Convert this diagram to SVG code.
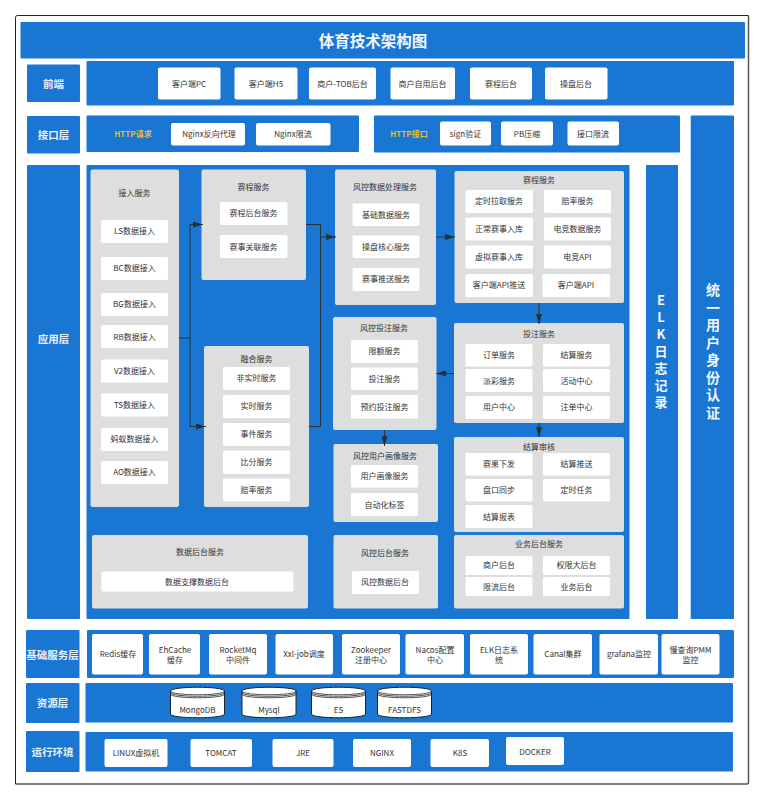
<svg xmlns="http://www.w3.org/2000/svg" width="764" height="800" viewBox="0 0 764 800">
<style>
text{font-family:"Noto Sans CJK SC","Noto Sans",sans-serif;text-anchor:middle;dominant-baseline:central;transform:translateY(-1px)}
.b{fill:#1976d2}
.g{fill:#dedede}
.w{fill:#fff}
.t{font-size:8px;fill:#333}
.l{font-size:10.5px;font-weight:700;fill:#e8f1fb}
.h{font-size:8px;font-weight:700;fill:#f5b92e}
.v{font-weight:700;fill:#f2f7fd;writing-mode:vertical-rl;text-orientation:upright}
.c{fill:#fff;stroke:#222;stroke-width:1}
.c2{fill:none;stroke:#222;stroke-width:.8}
.k{fill:none;stroke:#263238;stroke-width:1}
</style>
<defs>
<marker id="a" markerUnits="userSpaceOnUse" markerWidth="10" markerHeight="6" refX="10" refY="3" orient="auto"><path d="M0 0L10 3L0 6Z" fill="#263238"/></marker>
<g id="cyl"><path class="c" d="M0 5C0 0 54 0 54 5V28C54 33 0 33 0 28Z"/><path class="c2" d="M0 5C0 10 54 10 54 5M0 6.500C0 11.500 54 11.500 54 6.500M0 8C0 13 54 13 54 8"/></g>
</defs>
<path d="M15.500 784V17.500Q15.500 15.500 17.500 15.500H748.500" fill="none" stroke="#222" stroke-width="1"/>
<path d="M748.500 15.500V782Q748.500 784 746.500 784H15.500" fill="none" stroke="#555" stroke-width="1.500"/>
<g id="title"><rect class="b" x="20.500" y="22" width="724.500" height="36.500" rx="1"/><text x="373" y="41" fill="#f2f7fd" style="font-size:15.500px;font-weight:700">体育技术架构图</text></g>

<g id="frontend">
<rect class="b" x="27" y="64.500" width="53" height="37.500" rx="1"/><text class="l" x="53.500" y="84">前端</text>
<rect class="b" x="86.500" y="61" width="647.500" height="44.500" rx="1"/>
<rect class="w" x="158" y="67.500" width="62.500" height="32" rx="2"/><text class="t" x="189" y="84">客户端PC</text>
<rect class="w" x="234.500" y="67.500" width="63" height="32" rx="2"/><text class="t" x="266" y="84">客户端H5</text>
<rect class="w" x="309" y="67.500" width="67" height="32" rx="2"/><text class="t" x="342.500" y="84">商户-TOB后台</text>
<rect class="w" x="390.500" y="67.500" width="64.500" height="32" rx="2"/><text class="t" x="422.500" y="84">商户自用后台</text>
<rect class="w" x="470" y="67.500" width="62" height="32" rx="2"/><text class="t" x="501" y="84">赛程后台</text>
<rect class="w" x="545" y="67.500" width="62.500" height="32" rx="2"/><text class="t" x="576" y="84">操盘后台</text>
</g>

<g id="api">
<rect class="b" x="27" y="116" width="53" height="37.500" rx="1"/><text class="l" x="53.500" y="135">接口层</text>
<rect class="b" x="86.500" y="115.500" width="272.500" height="36.500" rx="1"/>
<text class="h" x="133" y="134">HTTP请求</text>
<rect class="w" x="171" y="123" width="74" height="22.500" rx="2"/><text class="t" x="209" y="134.500">Nginx反向代理</text>
<rect class="w" x="256" y="123" width="74.500" height="22.500" rx="2"/><text class="t" x="293" y="134.500">Nginx限流</text>
<rect class="b" x="374" y="115.500" width="306" height="37" rx="1"/>
<text class="h" x="409" y="134">HTTP接口</text>
<rect class="w" x="440" y="121.500" width="51" height="24" rx="2"/><text class="t" x="465.500" y="134">sign验证</text>
<rect class="w" x="501" y="121.500" width="52" height="24" rx="2"/><text class="t" x="527" y="134">PB压缩</text>
<rect class="w" x="567.500" y="121.500" width="51.500" height="24" rx="2"/><text class="t" x="593" y="134">接口限流</text>
</g>

<g id="auth"><rect class="b" x="690.700" y="115.500" width="43.300" height="503.500" rx="1"/>
<text class="v" x="713" y="354" style="font-size:14px;letter-spacing:3.500px">统一用户身份认证</text></g>
<g id="elk"><rect class="b" x="646" y="165" width="32" height="454" rx="1"/>
<text class="v" x="661" y="354" style="font-size:13px;letter-spacing:4px">ELK日志记录</text></g>

<g id="app">
<rect class="b" x="27" y="165" width="53" height="454" rx="1"/><text class="l" x="53.500" y="339">应用层</text>
<rect class="b" x="86.500" y="165" width="543" height="454" rx="1"/>
</g>

<g id="access">
<rect class="g" x="90.500" y="169.500" width="88.500" height="337.500" rx="2"/><text class="t" x="134.500" y="193">接入服务</text>
<rect class="w" x="101" y="220" width="67" height="23" rx="1.500"/><text class="t" x="134.500" y="231.500">LS数据接入</text>
<rect class="w" x="101" y="257" width="67" height="23" rx="1.500"/><text class="t" x="134.500" y="268.500">BC数据接入</text>
<rect class="w" x="101" y="293" width="67" height="23" rx="1.500"/><text class="t" x="134.500" y="304.500">BG数据接入</text>
<rect class="w" x="101" y="325" width="67" height="23" rx="1.500"/><text class="t" x="134.500" y="337">RB数据接入</text>
<rect class="w" x="101" y="359.500" width="67" height="23" rx="1.500"/><text class="t" x="134.500" y="371">V2数据接入</text>
<rect class="w" x="101" y="393.500" width="67" height="23" rx="1.500"/><text class="t" x="134.500" y="405">TS数据接入</text>
<rect class="w" x="101" y="428" width="67" height="23" rx="1.500"/><text class="t" x="134.500" y="439.500">蚂蚁数据接入</text>
<rect class="w" x="101" y="461" width="67" height="23" rx="1.500"/><text class="t" x="134.500" y="472.500">AO数据接入</text>
</g>

<g id="schedule1">
<rect class="g" x="201.500" y="169.500" width="104.500" height="110.500" rx="2"/><text class="t" x="253.500" y="187">赛程服务</text>
<rect class="w" x="220" y="202" width="67.500" height="23" rx="1.500"/><text class="t" x="253.500" y="213.500">赛程后台服务</text>
<rect class="w" x="220" y="235" width="67.500" height="23" rx="1.500"/><text class="t" x="253.500" y="247">赛事关联服务</text>
</g>

<g id="fusion">
<rect class="g" x="204" y="346" width="105" height="161" rx="2"/><text class="t" x="256.500" y="359">融合服务</text>
<rect class="w" x="223" y="367" width="67" height="23" rx="1.500"/><text class="t" x="256.500" y="378.500">非实时服务</text>
<rect class="w" x="223" y="395" width="67" height="23" rx="1.500"/><text class="t" x="256.500" y="406.500">实时服务</text>
<rect class="w" x="223" y="423" width="67" height="23" rx="1.500"/><text class="t" x="256.500" y="434.500">事件服务</text>
<rect class="w" x="223" y="450.500" width="67" height="23.500" rx="1.500"/><text class="t" x="256.500" y="462">比分服务</text>
<rect class="w" x="223" y="478.500" width="67" height="23" rx="1.500"/><text class="t" x="256.500" y="490">赔率服务</text>
</g>

<g id="riskdata">
<rect class="g" x="335" y="169.500" width="101" height="135.500" rx="2"/><text class="t" x="385" y="187">风控数据处理服务</text>
<rect class="w" x="352.500" y="203.500" width="67" height="22.500" rx="1.500"/><text class="t" x="386" y="215">基础数据服务</text>
<rect class="w" x="352.500" y="235.500" width="67" height="22.500" rx="1.500"/><text class="t" x="386" y="247">操盘核心服务</text>
<rect class="w" x="352.500" y="268" width="67" height="23" rx="1.500"/><text class="t" x="386" y="279.500">赛事推送服务</text>
</g>

<g id="schedule2">
<rect class="g" x="454.500" y="171" width="169.500" height="132" rx="2"/><text class="t" x="539" y="180">赛程服务</text>
<rect class="w" x="465.500" y="190" width="67.500" height="23" rx="1.500"/><text class="t" x="499" y="201.500">定时拉取服务</text>
<rect class="w" x="544" y="190" width="67" height="23" rx="1.500"/><text class="t" x="577.500" y="201.500">赔率服务</text>
<rect class="w" x="465.500" y="217.500" width="67.500" height="23" rx="1.500"/><text class="t" x="499" y="229">正常赛事入库</text>
<rect class="w" x="544" y="217.500" width="67" height="23" rx="1.500"/><text class="t" x="577.500" y="229">电竞数据服务</text>
<rect class="w" x="465.500" y="245.500" width="67.500" height="23" rx="1.500"/><text class="t" x="499" y="257">虚拟赛事入库</text>
<rect class="w" x="544" y="245.500" width="67" height="23" rx="1.500"/><text class="t" x="577.500" y="257">电竞API</text>
<rect class="w" x="465.500" y="274" width="67.500" height="23" rx="1.500"/><text class="t" x="499" y="285.500">客户端API推送</text>
<rect class="w" x="542.500" y="274" width="67.500" height="23" rx="1.500"/><text class="t" x="576" y="285.500">客户端API</text>
</g>

<g id="riskbet">
<rect class="g" x="333" y="317" width="103.500" height="113" rx="2"/><text class="t" x="384" y="328">风控投注服务</text>
<rect class="w" x="351" y="340" width="67" height="23" rx="1.500"/><text class="t" x="384.500" y="351.500">限额服务</text>
<rect class="w" x="351" y="367.500" width="67" height="22.500" rx="1.500"/><text class="t" x="384.500" y="379">投注服务</text>
<rect class="w" x="351" y="395" width="67" height="23.500" rx="1.500"/><text class="t" x="384.500" y="407">预约投注服务</text>
</g>

<g id="riskuser">
<rect class="g" x="333.500" y="444" width="104.500" height="78" rx="2"/><text class="t" x="385" y="456">风控用户画像服务</text>
<rect class="w" x="351" y="465" width="67" height="22.500" rx="1.500"/><text class="t" x="384.500" y="476.500">用户画像服务</text>
<rect class="w" x="351" y="493" width="67" height="23" rx="1.500"/><text class="t" x="384.500" y="505">自动化标签</text>
</g>

<g id="riskadmin">
<rect class="g" x="333.500" y="535" width="104.500" height="73.500" rx="2"/><text class="t" x="385" y="553">风控后台服务</text>
<rect class="w" x="352" y="571" width="67" height="23" rx="1.500"/><text class="t" x="385" y="582.500">风控数据后台</text>
</g>

<g id="bet">
<rect class="g" x="454" y="323" width="170" height="100" rx="2"/><text class="t" x="539" y="334">投注服务</text>
<rect class="w" x="465.500" y="344" width="67" height="22.500" rx="1.500"/><text class="t" x="499" y="355.500">订单服务</text>
<rect class="w" x="543" y="344" width="67" height="22.500" rx="1.500"/><text class="t" x="576.500" y="355.500">结算服务</text>
<rect class="w" x="465.500" y="369" width="67" height="23" rx="1.500"/><text class="t" x="499" y="381">派彩服务</text>
<rect class="w" x="543" y="369" width="67" height="23" rx="1.500"/><text class="t" x="576.500" y="381">活动中心</text>
<rect class="w" x="465.500" y="396" width="67" height="23" rx="1.500"/><text class="t" x="499" y="407.500">用户中心</text>
<rect class="w" x="543" y="396" width="67" height="23" rx="1.500"/><text class="t" x="576.500" y="407.500">注单中心</text>
</g>

<g id="settle">
<rect class="g" x="454" y="437" width="170" height="95" rx="2"/><text class="t" x="539" y="447">结算审核</text>
<rect class="w" x="465.500" y="453" width="67" height="22.500" rx="1.500"/><text class="t" x="499" y="464.500">赛果下发</text>
<rect class="w" x="543" y="453" width="67" height="22.500" rx="1.500"/><text class="t" x="576.500" y="464.500">结算推送</text>
<rect class="w" x="465.500" y="479" width="67" height="22.500" rx="1.500"/><text class="t" x="499" y="490.500">盘口同步</text>
<rect class="w" x="543" y="479" width="67" height="22.500" rx="1.500"/><text class="t" x="576.500" y="490.500">定时任务</text>
<rect class="w" x="465.500" y="505" width="67" height="23" rx="1.500"/><text class="t" x="499" y="517">结算报表</text>
</g>

<g id="bizadmin">
<rect class="g" x="454" y="535" width="170" height="73.500" rx="2"/><text class="t" x="539" y="544.500">业务后台服务</text>
<rect class="w" x="465.500" y="556" width="67" height="19" rx="1.500"/><text class="t" x="499" y="565.500">商户后台</text>
<rect class="w" x="543" y="556" width="67" height="19" rx="1.500"/><text class="t" x="576.500" y="565.500">权限大后台</text>
<rect class="w" x="465.500" y="577" width="67" height="19" rx="1.500"/><text class="t" x="499" y="587">限流后台</text>
<rect class="w" x="543" y="577" width="67" height="19" rx="1.500"/><text class="t" x="576.500" y="587">业务后台</text>
</g>

<g id="dataadmin">
<rect class="g" x="92" y="535" width="216" height="73.500" rx="2"/><text class="t" x="200" y="552">数据后台服务</text>
<rect class="w" x="101.500" y="571.500" width="192" height="20" rx="1.500"/><text class="t" x="197" y="582">数据支撑数据后台</text>
</g>

<g id="connectors">
<path class="k" d="M179 338H190V224.500H203" marker-end="url(#a)"/>
<path class="k" d="M190 338V426.500H206" marker-end="url(#a)"/>
<path class="k" d="M306 224.500H320.500V426.500H309"/>
<path class="k" d="M320.500 237H336" marker-end="url(#a)"/>
<path class="k" d="M436 237H455" marker-end="url(#a)"/>
<path class="k" d="M539 303V324" marker-end="url(#a)"/>
<path class="k" d="M454 373.500H436" marker-end="url(#a)"/>
<path class="k" d="M539 423V437" marker-end="url(#a)"/>
<path class="k" d="M384.500 430V446" marker-end="url(#a)"/>
</g>

<g id="infra">
<rect class="b" x="26" y="630" width="53.500" height="48" rx="1"/><text class="l" x="52.500" y="655">基础服务层</text>
<rect class="b" x="87" y="630" width="647" height="48" rx="1"/>
<rect class="w" x="92" y="634" width="51" height="40.500" rx="2"/><text class="t" x="118" y="654.500">Redis缓存</text>
<rect class="w" x="149" y="634" width="51" height="40.500" rx="2"/><text class="t"><tspan x="175" y="649.500">EhCache</tspan><tspan x="175" y="659.500">缓存</tspan></text>
<rect class="w" x="209" y="634" width="58" height="40.500" rx="2"/><text class="t"><tspan x="238" y="649.500">RocketMq</tspan><tspan x="238" y="659.500">中间件</tspan></text>
<rect class="w" x="275.500" y="634" width="57.500" height="40.500" rx="2"/><text class="t" x="304" y="654.500">Xxl-job调度</text>
<rect class="w" x="342" y="634" width="58" height="40.500" rx="2"/><text class="t"><tspan x="371" y="649.500">Zookeeper</tspan><tspan x="371" y="659.500">注册中心</tspan></text>
<rect class="w" x="405.500" y="634" width="58.500" height="40.500" rx="2"/><text class="t"><tspan x="435" y="649.500">Nacos配置</tspan><tspan x="435" y="659.500">中心</tspan></text>
<rect class="w" x="470" y="634" width="58" height="40.500" rx="2"/><text class="t"><tspan x="499" y="649.500">ELK日志系</tspan><tspan x="499" y="659.500">统</tspan></text>
<rect class="w" x="533.500" y="634" width="58.500" height="40.500" rx="2"/><text class="t" x="563" y="654.500">Canal集群</text>
<rect class="w" x="599.500" y="634" width="58.500" height="40.500" rx="2"/><text class="t" x="629" y="654.500">grafana监控</text>
<rect class="w" x="661.500" y="634" width="58" height="40.500" rx="2"/><text class="t"><tspan x="690.500" y="649.500">慢查询PMM</tspan><tspan x="690.500" y="659.500">监控</tspan></text>
</g>

<g id="resource">
<rect class="b" x="26" y="683" width="53.500" height="40" rx="1"/><text class="l" x="52.500" y="703">资源层</text>
<rect class="b" x="85.500" y="683" width="647.500" height="39.500" rx="1"/>
<use href="#cyl" x="170.500" y="686"/><text class="t" x="197.500" y="710">MongoDB</text>
<use href="#cyl" x="242" y="686"/><text class="t" x="269" y="710">Mysql</text>
<use href="#cyl" x="311.500" y="686"/><text class="t" x="338.500" y="710">ES</text>
<use href="#cyl" x="377.500" y="686"/><text class="t" x="404.500" y="710">FASTDFS</text>
</g>

<g id="runtime">
<rect class="b" x="26" y="731" width="53.500" height="41" rx="1"/><text class="l" x="52.500" y="752">运行环境</text>
<rect class="b" x="85.500" y="732" width="647.500" height="39.500" rx="1"/>
<rect class="w" x="104.500" y="739" width="63" height="28" rx="2"/><text class="t" x="136" y="753.500">LINUX虚拟机</text>
<rect class="w" x="190.500" y="739" width="61.500" height="28" rx="2"/><text class="t" x="221" y="753.500">TOMCAT</text>
<rect class="w" x="272.500" y="739" width="61" height="28" rx="2"/><text class="t" x="303" y="753.500">JRE</text>
<rect class="w" x="353" y="739" width="58" height="28" rx="2"/><text class="t" x="382" y="753.500">NGINX</text>
<rect class="w" x="430.500" y="739" width="58.500" height="28" rx="2"/><text class="t" x="460" y="753.500">K8S</text>
<rect class="w" x="506" y="737" width="58" height="28" rx="2"/><text class="t" x="535" y="752">DOCKER</text>
</g>
</svg>
